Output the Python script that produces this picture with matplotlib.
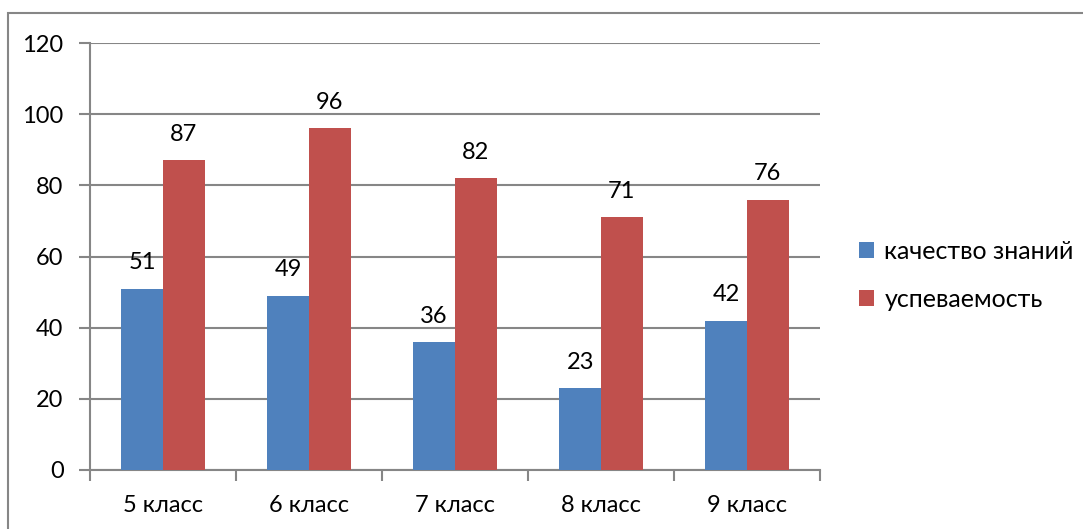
import numpy as np
import matplotlib.pyplot as plt
from matplotlib.patches import Rectangle

classes = ['5 класс', '6 класс', '7 класс', '8 класс', '9 класс']
quality = [51, 49, 36, 23, 42]
progress = [87, 96, 82, 71, 76]
series_names = ['качество знаний', 'успеваемость']

plt.rcParams['font.family'] = ['Lato', 'DejaVu Sans']
grey = '#868686'
fs = 17

fig = plt.figure(figsize=(10.83, 5.29), dpi=100)
fig.patches.append(Rectangle((8/1083, -0.1), 1.2, 1.1 - 13/529, transform=fig.transFigure,
                             fill=False, edgecolor=grey, lw=1.5))
ax = fig.add_axes([90/1083, 1 - 470/529, 730/1083, 427/529])

x = np.arange(len(classes))
w = 1/3.5
b1 = ax.bar(x - w/2, quality, w, color='#4F81BD', label=series_names[0], zorder=3)
b2 = ax.bar(x + w/2, progress, w, color='#C0504D', label=series_names[1], zorder=3)
for bars in (b1, b2):
    ax.bar_label(bars, padding=11, fontsize=fs)

ax.set_xlim(-0.5, len(classes) - 0.5)
ax.set_ylim(0, 120)
ax.set_yticks(range(0, 121, 20))
ax.yaxis.grid(True, color=grey, lw=1.5, zorder=0)
ax.set_xticks(np.arange(-0.5, len(classes), 1))
ax.set_xticklabels([])
ax.set_xticks(x, classes, minor=True)
ax.tick_params(axis='x', which='minor', length=0, pad=18, labelsize=fs)
ax.tick_params(axis='x', which='major', length=8, color=grey, width=1.5)
ax.tick_params(axis='y', length=8, color=grey, width=1.5, labelsize=fs, pad=11)
for s in ['top', 'right']:
    ax.spines[s].set_visible(False)
for s in ['left', 'bottom']:
    ax.spines[s].set_color(grey)
    ax.spines[s].set_linewidth(1.5)

ax.legend(loc='center left', bbox_to_anchor=(1.054, 0.455), frameon=False, fontsize=18,
          handlelength=0.6, handleheight=0.6, handletextpad=0.4, labelspacing=1.0,
          borderpad=0, borderaxespad=0)

fig.savefig('out.png', dpi=100)
